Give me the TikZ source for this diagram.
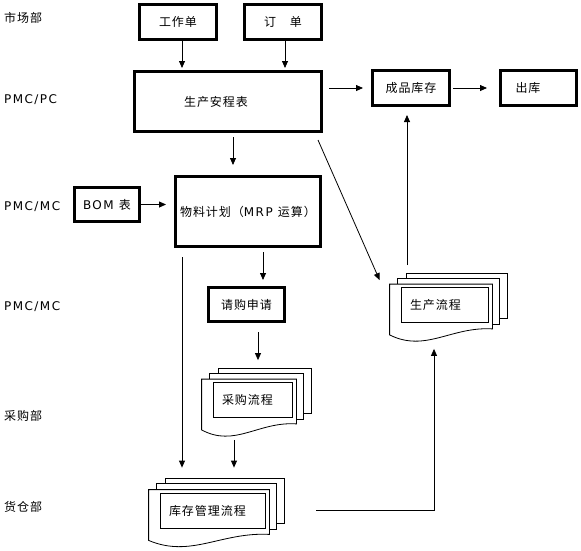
\documentclass[tikz,border=0pt]{standalone}
\usepackage{fontspec}
\setmainfont{DejaVu Sans}[LetterSpace=12]
\newfontfamily\cjk{Noto Sans CJK SC}[LetterSpace=8]
\usetikzlibrary{arrows.meta,calc,backgrounds}

\tikzset{
    box/.style={draw, line width=3pt, inner sep=0pt},
    docbox/.style={draw, line width=0.8pt, fill=white, inner xsep=9pt, align=left, minimum height=35pt},
    page/.style={draw, line width=0.8pt, fill=white},
    flow/.style={line width=0.8pt, -{Triangle[length=7pt,width=6pt]}},
    dept/.style={anchor=west, inner sep=0pt}
}

% the pages behind a flow document
\newcommand{\docpages}[1]{%
    \begin{scope}[on background layer]
        \draw[page] ([shift={(6,-14)}]#1.north west) rectangle ([shift={(19,-5)}]#1.south east);
        \draw[page] ([shift={(-3,-9)}]#1.north west) rectangle ([shift={(11,1)}]#1.south east);
        \coordinate (#1 fl) at ([shift={(-11,12)}]#1.south west);
        \coordinate (#1 fr) at ([shift={(4,6)}]#1.south east);
        \draw[page] ([shift={(-11,-3)}]#1.north west) -- (#1 fl)
            .. controls ($(#1 fl)!0.35!(#1 fr)+(0,20)$) and ($(#1 fl)!0.6!(#1 fr)+(0,-5)$) .. (#1 fr)
            -- ([shift={(4,-3)}]#1.north east) -- cycle;
    \end{scope}}

\begin{document}
\begin{tikzpicture}[x=1pt, y=-1pt, font=\fontsize{12}{14}\selectfont]
    \useasboundingbox (0,0) rectangle (581,550);

    % Define the positions of the boxes
    \coordinate (gzdPos) at (178,22);
    \coordinate (ddPos) at (283,22);
    \coordinate (scbPos) at (228,101.5);
    \coordinate (cpkcPos) at (411,88);
    \coordinate (ckPos) at (538.5,88);
    \coordinate (bomPos) at (107,204.5);
    \coordinate (wljhPos) at (248,211.5);
    \coordinate (qgsqPos) at (246.5,304.5);
    \coordinate (scliuPos) at (444.5,305);
    \coordinate (cgliuPos) at (252.5,400);
    \coordinate (kcliuPos) at (212.5,510.5);

    % Draw the department labels
    \node[dept] (dept1) at (4,18) {\cjk 市场部};
    \node[dept] (dept2) at (4,100) {PMC/PC};
    \node[dept] (dept3) at (4,207) {PMC/MC};
    \node[dept] (dept4) at (4,307) {PMC/MC};
    \node[dept] (dept5) at (4,416) {\cjk 采购部};
    \node[dept] (dept6) at (4,507) {\cjk 货仓部};

    % Draw the boxes
    \node[box, minimum width=77pt, minimum height=35pt] (gzd) at (gzdPos) {\cjk 工作单};
    \node[box, minimum width=77pt, minimum height=35pt] (dd) at (ddPos) {\cjk 订　单};
    \node[box, minimum width=187pt, minimum height=60pt] (scb) at (scbPos) {\cjk 生产安程表\hspace*{24pt}};
    \node[box, minimum width=77pt, minimum height=35pt] (cpkc) at (cpkcPos) {\cjk 成品库存};
    \node[box, minimum width=76pt, minimum height=35pt] (ck) at (ckPos) {\cjk 出库\hspace*{21pt}};
    \node[box, minimum width=65pt, minimum height=34pt] (bom) at (bomPos) {BOM {\cjk 表}};
    \node[box, minimum width=145pt, minimum height=70pt] (wljh) at (wljhPos) {{\cjk 物料计划（}MRP {\cjk 运算）}};
    \node[box, minimum width=76pt, minimum height=34pt] (qgsq) at (qgsqPos) {\cjk 请购申请};

    % Draw the document stacks
    \node[docbox, text width=69pt] (scliu) at (scliuPos) {\cjk 生产流程};
    \node[docbox, text width=61pt] (cgliu) at (cgliuPos) {\cjk 采购流程};
    \node[docbox, text width=87pt] (kcliu) at (kcliuPos) {\cjk 库存管理流程};
    \docpages{scliu}
    \docpages{cgliu}
    \docpages{kcliu}

    % Draw the arrows
    \coordinate (longX) at (182,0);
    \coordinate (kcOut) at ([xshift=51pt]kcliu.east);
    \draw[flow, shorten >=2pt] ([xshift=4pt]gzd.south) -- ([xshift=4pt]gzd.south |- scb.north);
    \draw[flow, shorten >=2pt] ([xshift=2pt]dd.south) -- ([xshift=2pt]dd.south |- scb.north);
    \draw[flow, shorten <=6pt, shorten >=8pt] (scb.east |- cpkc) -- (cpkc.west);
    \draw[flow, shorten <=2pt, shorten >=12pt] (cpkc.east) -- (ck.west);
    \draw[flow, shorten <=4pt, shorten >=10pt] ([xshift=5pt]scb.south) -- ([xshift=5pt]scb.south |- wljh.north);
    \draw[flow, shorten >=8pt] (bom.east) -- (bom.east -| wljh.west);
    \draw[flow, shorten <=4pt, shorten >=6pt] ([xshift=15pt]wljh.south) -- ([xshift=15pt]wljh.south |- qgsq.north);
    \draw[flow, shorten <=9pt, shorten >=25pt] (wljh.south -| longX) -- (kcliu.north -| longX);
    \draw[flow, shorten <=9pt, shorten >=22pt] ([xshift=11.5pt]qgsq.south) -- ([xshift=11.5pt]qgsq.south |- cgliu.north);
    \draw[flow, shorten <=22pt, shorten >=25pt] ([xshift=-18.5pt]cgliu.south) -- ([xshift=-18.5pt]cgliu.south |- kcliu.north);
    \draw[flow, shorten >=26pt] (kcOut) -| ([xshift=-10.5pt]scliu.south);
    \draw[flow, shorten <=22pt, shorten >=8pt] ([xshift=-4pt]cpkc.south |- scliu.north) -- ([xshift=-4pt]cpkc.south);
    \draw[flow] ([shift={(-5,7)}]scb.south east) -- ([shift={(-21,-7)}]scliu.north west);
\end{tikzpicture}
\end{document}
